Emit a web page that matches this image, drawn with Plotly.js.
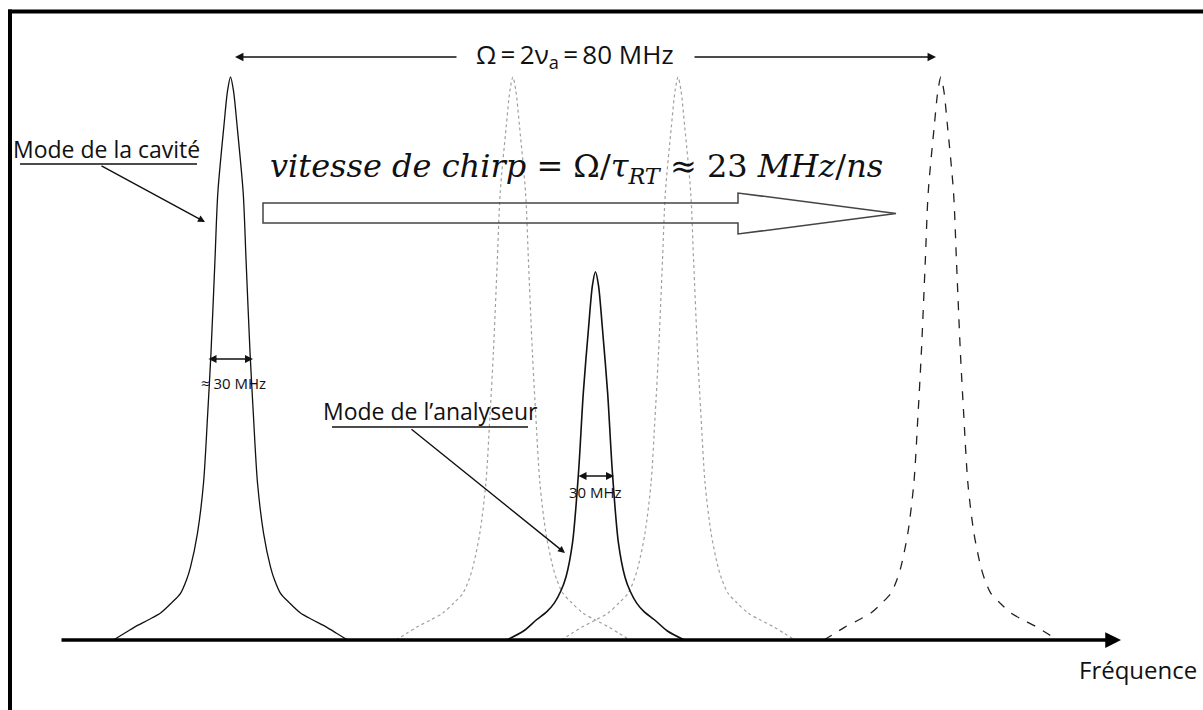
<!DOCTYPE html>
<html>
<head>
<meta charset="utf-8">
<script src="https://cdn.plot.ly/plotly-3.0.1.min.js"></script>
<style>html,body{margin:0;padding:0;background:#fff;}</style>
</head>
<body>
<div id="chart" style="width:1203px;height:710px;"></div>
<script>
// ---- Data (frequency in MHz, amplitude relative to cavity mode peak) ----
const cavityOffset = [-13.18, -11.94, -10.81, -9.23, -7.88, -6.64, -5.63, -4.95, -4.50, -3.72, -3.04, -2.59, -2.20, -1.75, -1.43, -0.75, -0.34, 0,
                      0.34, 0.75, 1.43, 1.75, 2.20, 2.59, 3.04, 3.72, 4.50, 4.95, 5.63, 6.64, 7.88, 9.23, 10.81, 11.94, 13.18];
const cavityLevel  = [0, 0.012, 0.023, 0.036, 0.048, 0.066, 0.083, 0.107, 0.130, 0.190, 0.279, 0.396, 0.510, 0.675, 0.794, 0.912, 0.975, 1.0,
                      0.975, 0.912, 0.794, 0.675, 0.510, 0.396, 0.279, 0.190, 0.130, 0.107, 0.083, 0.066, 0.048, 0.036, 0.023, 0.012, 0];
const analyzerOffset = [-10.02, -8.10, -6.64, -5.50, -4.62, -3.90, -3.32, -2.59, -1.91, -1.37, -0.77, -0.34, 0,
                        0.34, 0.77, 1.37, 1.91, 2.59, 3.32, 3.90, 4.62, 5.50, 6.64, 8.10, 10.02];
const analyzerLevel  = [0, 0.016, 0.036, 0.050, 0.066, 0.087, 0.112, 0.172, 0.297, 0.439, 0.556, 0.630, 0.654,
                        0.630, 0.556, 0.439, 0.297, 0.172, 0.112, 0.087, 0.066, 0.050, 0.036, 0.016, 0];
const cavityCenters = [0, 31.8, 50.4, 80.0];   // cavity mode positions during the chirp
const analyzerCenter = 41.1;                   // analyser mode position
const freqRange = [-25.96, 109.52];
const levelRange = [-0.1243, 1.1368];

// ---- Helpers for pixel-placed decorations ----
const W = 1203, H = 710;
const px = x => x / W;
const py = y => 1 - y / H;

const cavityStyles = [
  {color: '#111', width: 1.3, dash: 'solid'},
  {color: '#a0a0a0', width: 1.2, dash: 'dot'},
  {color: '#a0a0a0', width: 1.2, dash: 'dot'},
  {color: '#222', width: 1.3, dash: 'dash'}
];

const traces = cavityCenters.map((c, i) => ({
  type: 'scatter', mode: 'lines',
  x: cavityOffset.map(d => c + d),
  y: cavityLevel,
  line: Object.assign({shape: 'spline', smoothing: 0.8}, cavityStyles[i]),
  hoverinfo: 'skip'
}));
traces.push({
  type: 'scatter', mode: 'lines',
  x: analyzerOffset.map(d => analyzerCenter + d),
  y: analyzerLevel,
  line: {color: '#111', width: 1.6, shape: 'spline', smoothing: 0.8},
  hoverinfo: 'skip'
});

const sans = '"Open Sans", Roboto, sans-serif';
const serif = '"DejaVu Serif", "Liberation Serif", serif';

function arrow(hx, hy, tx, ty, opts) {
  return Object.assign({
    xref: 'paper', yref: 'paper', x: px(hx), y: py(hy),
    ax: tx - hx, ay: ty - hy, axref: 'pixel', ayref: 'pixel',
    text: '', showarrow: true, arrowhead: 2, arrowsize: 1, arrowwidth: 1.5,
    arrowcolor: '#111', standoff: 0, startstandoff: 0
  }, opts || {});
}
function label(x, y, text, size, opts) {
  return Object.assign({
    xref: 'paper', yref: 'paper', x: px(x), y: py(y), text: text,
    showarrow: false, xanchor: 'left', yanchor: 'middle',
    font: {family: sans, size: size, color: '#111'}
  }, opts || {});
}

const annotations = [
  // Omega span
  arrow(235, 57, 458, 57, {arrowwidth: 1.3, arrowsize: 1.3}),
  arrow(936, 57, 693, 57, {arrowwidth: 1.3, arrowsize: 1.3}),
  label(575, 55, 'Ω\u2009=\u20092ν<sub>a</sub>\u2009=\u200980 MHz', 26, {xanchor: 'center'}),
  // cavity mode label
  label(11, 149, 'Mode de la cavité', 23),
  arrow(205, 222, 100, 165, {arrowwidth: 1.4}),
  // chirp speed
  label(268, 168, '<i>vitesse de chirp</i> = Ω/<i>τ<sub>RT</sub></i> ≈ 23 <i>MHz</i>/<i>ns</i>', 32,
        {font: {family: serif, size: 32, color: '#111'}}),
  // cavity width
  arrow(253, 359, 207, 359, {arrowside: 'end+start', arrowsize: 1, arrowwidth: 1.6}),
  label(234, 383, '≈ 30 MHz', 15, {xanchor: 'center'}),
  // analyser label
  label(321, 411, 'Mode de l’analyseur', 23),
  arrow(565, 553, 410, 428, {arrowwidth: 1.4}),
  // analyser width
  arrow(614, 476, 577, 476, {arrowside: 'end+start', arrowsize: 1, arrowwidth: 1.6}),
  label(595, 492, '30 MHz', 15, {xanchor: 'center'}),
  // frequency axis
  arrow(1121, 640, 60, 640, {arrowwidth: 3.5, arrowsize: 0.9, arrowcolor: '#000'}),
  label(1077, 669, 'Fréquence', 24)
];

const bigArrow = 'M ' + [[263,203],[738,203],[738,193],[896,213.5],[738,234],[738,223],[263,223]]
  .map(p => px(p[0]) + ',' + py(p[1])).join(' L ') + ' Z';

const shapes = [
  // frame
  {type: 'line', xref: 'paper', yref: 'paper', x0: px(10), x1: px(10), y0: py(9.5), y1: py(712), line: {color: '#000', width: 4}},
  {type: 'line', xref: 'paper', yref: 'paper', x0: px(8), x1: px(1205), y0: py(11.5), y1: py(11.5), line: {color: '#000', width: 4}},
  // underlines
  {type: 'line', xref: 'paper', yref: 'paper', x0: px(20), x1: px(197), y0: py(164), y1: py(164), line: {color: '#111', width: 1.5}},
  {type: 'line', xref: 'paper', yref: 'paper', x0: px(332), x1: px(528), y0: py(427), y1: py(427), line: {color: '#111', width: 1.5}},
  // hollow chirp arrow
  {type: 'path', xref: 'paper', yref: 'paper', path: bigArrow, line: {color: '#444', width: 1.5}, fillcolor: 'rgba(255,255,255,0)'}
];

const layout = {
  width: W, height: H,
  margin: {l: 0, r: 0, t: 0, b: 0, pad: 0},
  paper_bgcolor: '#fff', plot_bgcolor: '#fff',
  showlegend: false,
  xaxis: {range: freqRange, visible: false, fixedrange: true},
  yaxis: {range: levelRange, visible: false, fixedrange: true},
  annotations: annotations,
  shapes: shapes
};

Plotly.newPlot('chart', traces, layout, {displayModeBar: false, staticPlot: true});
</script>
</body>
</html>
